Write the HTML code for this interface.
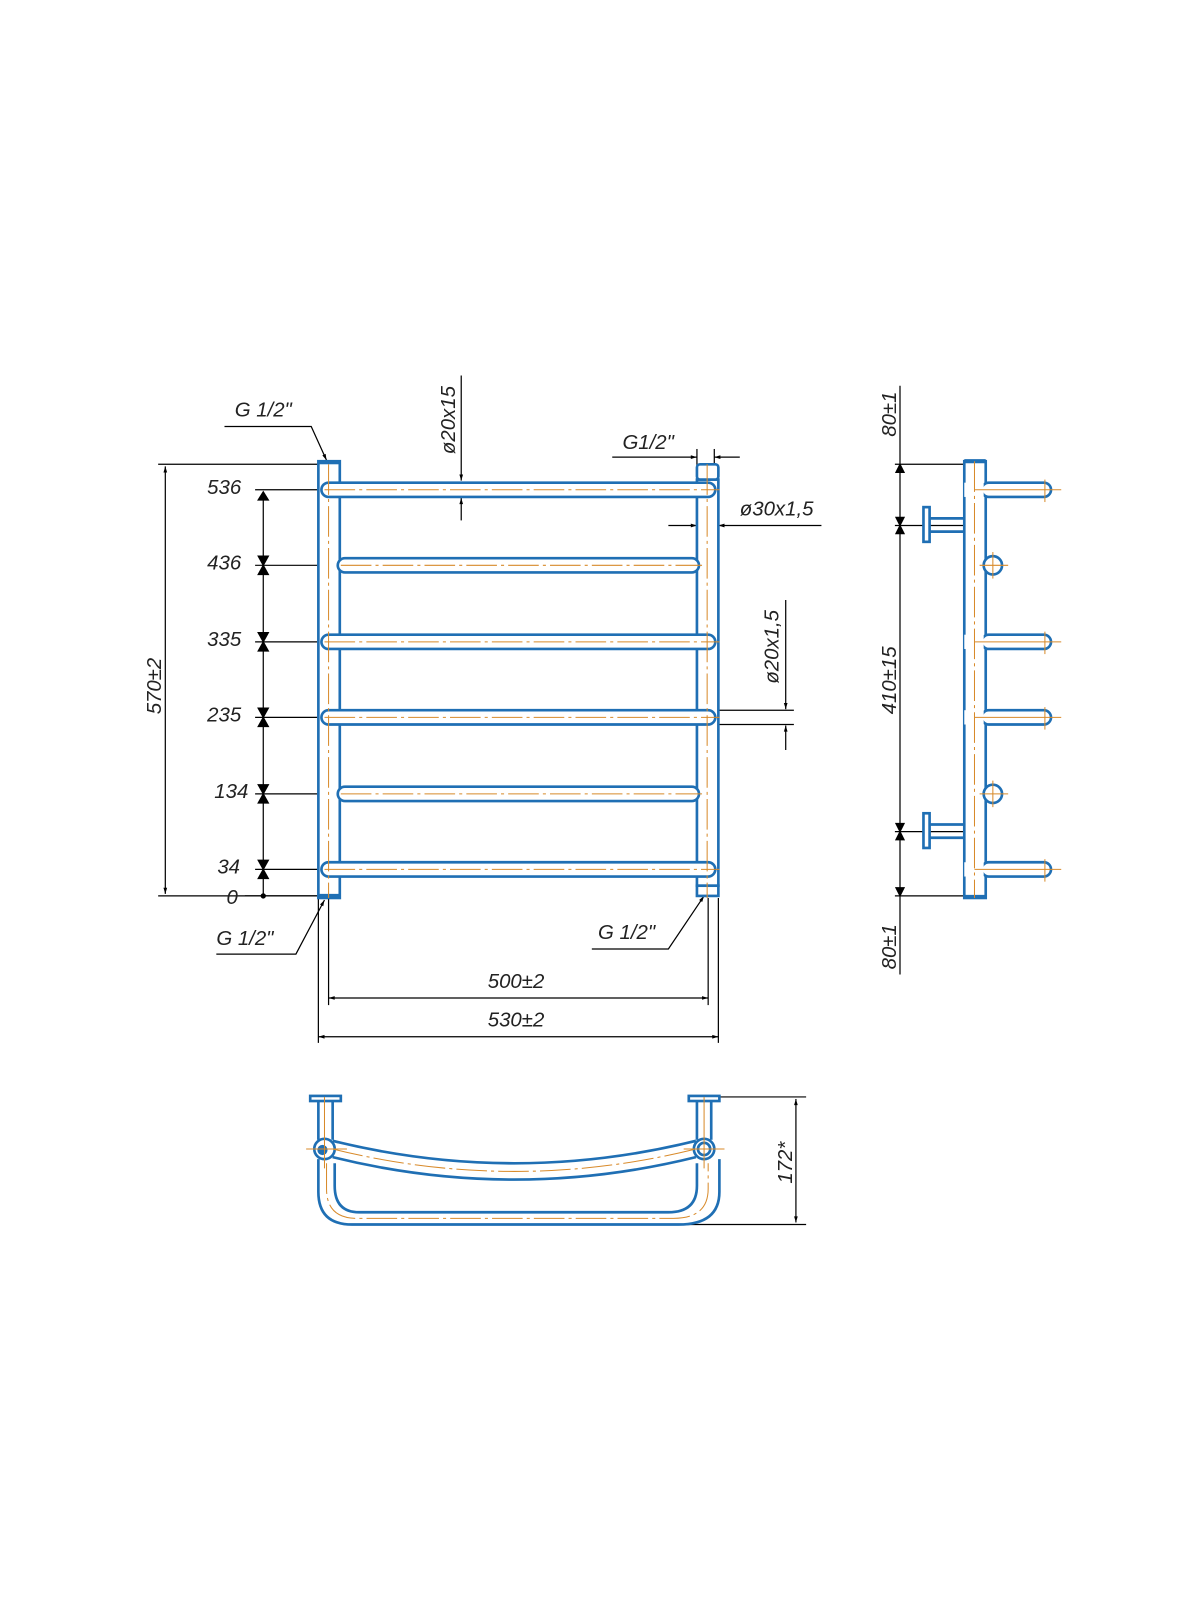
<!DOCTYPE html>
<html><head><meta charset="utf-8"><style>
html,body{margin:0;padding:0;background:#fff;}
svg{display:block;}
text{font-family:"Liberation Sans",sans-serif;font-style:italic;font-size:20px;fill:#222;}
</style></head><body>
<svg width="1200" height="1600" viewBox="0 0 1176 1568" xmlns="http://www.w3.org/2000/svg">
<defs>
<marker id="a" viewBox="0 0 10 10" refX="10" refY="5" markerWidth="10" markerHeight="6" orient="auto-start-reverse" markerUnits="userSpaceOnUse"><path d="M0,2 L10,5 L0,8 z" fill="#000"/></marker>
</defs>
<g stroke="#000" stroke-width="1.2" fill="none">
<!-- 570 dim -->
<line x1="155" y1="455" x2="312" y2="455"/><line x1="155" y1="878" x2="312" y2="878"/>
<line x1="162" y1="457" x2="162" y2="876" marker-start="url(#a)" marker-end="url(#a)"/>
<!-- chain -->
<line x1="258" y1="482" x2="258" y2="876" />
<path d="M253,490 L258,482 L263,490z M253,545 L258,554 L263,545z M253,563 L258,554 L263,563z M253,620 L258,629 L263,620z M253,638 L258,629 L263,638z M253,694 L258,703 L263,694z M253,712 L258,703 L263,712z M253,769 L258,778 L263,769z M253,787 L258,778 L263,787z M253,843 L258,852 L263,843z M253,861 L258,852 L263,861z" fill="#000"/>
<circle cx="258" cy="878" r="2" fill="#000"/>
<line x1="250" y1="480" x2="340" y2="480"/><line x1="250" y1="554" x2="340" y2="554"/>
<line x1="250" y1="629" x2="340" y2="629"/><line x1="250" y1="703" x2="340" y2="703"/>
<line x1="250" y1="778" x2="340" y2="778"/><line x1="250" y1="852" x2="340" y2="852"/>
<line x1="240" y1="878" x2="312" y2="878"/>
<!-- Ø20x15 top -->
<line x1="452" y1="368" x2="452" y2="471" marker-end="url(#a)"/>
<line x1="452" y1="510" x2="452" y2="488" marker-end="url(#a)"/>
<line x1="440" y1="473" x2="485" y2="473"/><line x1="365" y1="487" x2="470" y2="487"/>
<!-- G1/2 top left -->
<polyline points="220,418 305,418 320,451" marker-end="url(#a)"/>
<!-- G1/2 top right -->
<line x1="600" y1="448" x2="683" y2="448" marker-end="url(#a)"/>
<line x1="725" y1="448" x2="700" y2="448" marker-end="url(#a)"/>
<line x1="683" y1="440" x2="683" y2="460"/><line x1="700" y1="440" x2="700" y2="460"/>
<!-- Ø30 -->
<line x1="655" y1="515" x2="683" y2="515" marker-end="url(#a)"/>
<line x1="805" y1="515" x2="704" y2="515" marker-end="url(#a)"/>
<line x1="683" y1="488" x2="683" y2="520"/><line x1="704" y1="488" x2="704" y2="520"/>
<!-- Ø20x1.5 right -->
<line x1="770" y1="588" x2="770" y2="695" marker-end="url(#a)"/>
<line x1="770" y1="735" x2="770" y2="711" marker-end="url(#a)"/>
<line x1="705" y1="696" x2="778" y2="696"/><line x1="705" y1="710" x2="778" y2="710"/>
<!-- G bottom -->
<polyline points="212,935 290,935 318,882" marker-end="url(#a)"/>
<polyline points="580,930 655,930 690,878" marker-end="url(#a)"/>
<!-- 500 / 530 -->
<line x1="322" y1="880" x2="322" y2="985"/><line x1="694" y1="880" x2="694" y2="985"/>
<line x1="312" y1="880" x2="312" y2="1022"/><line x1="704" y1="880" x2="704" y2="1022"/>
<line x1="322" y1="978" x2="694" y2="978" marker-start="url(#a)" marker-end="url(#a)"/>
<line x1="312" y1="1016" x2="704" y2="1016" marker-start="url(#a)" marker-end="url(#a)"/>
<!-- side dims -->
<line x1="882" y1="378" x2="882" y2="955"/>
<line x1="877" y1="455" x2="945" y2="455"/><line x1="877" y1="515" x2="945" y2="515"/>
<line x1="877" y1="815" x2="945" y2="815"/><line x1="877" y1="878" x2="945" y2="878"/>
<path d="M878,463 L882,455 L886,463z M878,507 L882,515 L886,507z M878,523 L882,515 L886,523z M878,807 L882,815 L886,807z M878,823 L882,815 L886,823z M878,870 L882,878 L886,870z" fill="#000"/>
<!-- 172 -->
<line x1="690" y1="1075" x2="790" y2="1075"/><line x1="660" y1="1200" x2="790" y2="1200"/>
<line x1="780" y1="1077" x2="780" y2="1198" marker-start="url(#a)" marker-end="url(#a)"/>
</g>
<!-- texts -->
<text x="230" y="408">G 1/2"</text>
<text x="610" y="440">G1/2"</text>
<text x="725" y="505">ø30x1,5</text>
<text x="212" y="926">G 1/2"</text>
<text x="586" y="920">G 1/2"</text>
<text x="478" y="968">500±2</text>
<text x="478" y="1006">530±2</text>
<text x="203" y="484">536</text><text x="203" y="558">436</text><text x="203" y="633">335</text>
<text x="203" y="707">235</text><text x="210" y="782">134</text><text x="213" y="856">34</text>
<text x="222" y="886">0</text>
<text transform="translate(158,700) rotate(-90)">570±2</text>
<text transform="translate(446,445) rotate(-90)">ø20x15</text>
<text transform="translate(763,670) rotate(-90)">ø20x1,5</text>
<text transform="translate(878,428) rotate(-90)">80±1</text>
<text transform="translate(878,700) rotate(-90)">410±15</text>
<text transform="translate(878,950) rotate(-90)">80±1</text>
<text transform="translate(776,1160) rotate(-90)">172*</text>

<!-- front view -->
<g stroke="#1f6fb4" stroke-width="2.6" fill="#fff">
<rect x="312" y="452" width="21" height="428"/>
<rect x="683" y="470" width="21" height="398"/>
<rect x="683" y="455" width="21" height="15" rx="3"/>
<rect x="683" y="868" width="21" height="10"/>
<rect x="315" y="473" width="386" height="14" rx="7"/>
<rect x="331" y="547" width="354" height="14" rx="7"/>
<rect x="315" y="622" width="386" height="14" rx="7"/>
<rect x="315" y="696" width="386" height="14" rx="7"/>
<rect x="331" y="771" width="354" height="14" rx="7"/>
<rect x="315" y="845" width="386" height="14" rx="7"/>
</g>
<rect x="312" y="451" width="21" height="4" fill="#1f6fb4"/>
<rect x="312" y="876" width="21" height="4" fill="#1f6fb4"/>
<g stroke="#d88a2a" stroke-width="1" stroke-dasharray="30,4,3,4" fill="none">
<line x1="322" y1="455" x2="322" y2="880"/><line x1="693" y1="455" x2="693" y2="880"/>
<line x1="318" y1="480" x2="705" y2="480"/><line x1="334" y1="554" x2="688" y2="554"/>
<line x1="318" y1="629" x2="705" y2="629"/><line x1="318" y1="703" x2="705" y2="703"/>
<line x1="334" y1="778" x2="688" y2="778"/><line x1="318" y1="852" x2="705" y2="852"/>
<line x1="955" y1="452" x2="955" y2="880"/>
</g>

<!-- side view -->
<g stroke="#1f6fb4" stroke-width="2.6" fill="#fff">
<rect x="945" y="452" width="21" height="428"/>
<rect x="962" y="473" width="68" height="14" rx="7"/>
<rect x="962" y="622" width="68" height="14" rx="7"/>
<rect x="962" y="696" width="68" height="14" rx="7"/>
<rect x="962" y="845" width="68" height="14" rx="7"/>
<rect x="945" y="473" width="19" height="14" stroke="none"/>
<rect x="945" y="622" width="19" height="14" stroke="none"/>
<rect x="945" y="696" width="19" height="14" stroke="none"/>
<rect x="945" y="845" width="19" height="14" stroke="none"/>
<circle cx="973" cy="554" r="9"/><circle cx="973" cy="778" r="9"/>
<rect x="905" y="497" width="6" height="34"/><line x1="911" y1="508" x2="945" y2="508"/><line x1="911" y1="521" x2="945" y2="521"/>
<rect x="905" y="797" width="6" height="34"/><line x1="911" y1="808" x2="945" y2="808"/><line x1="911" y1="821" x2="945" y2="821"/>
</g>
<line x1="945" y1="452" x2="966" y2="452" stroke="#1f6fb4" stroke-width="4"/>
<line x1="945" y1="879" x2="966" y2="879" stroke="#1f6fb4" stroke-width="4"/>
<g stroke="#d88a2a" stroke-width="1" fill="none">
<line x1="955" y1="452" x2="955" y2="880" stroke-dasharray="30,4,3,4"/>
<line x1="955" y1="480" x2="1040" y2="480"/><line x1="1024" y1="470" x2="1024" y2="492"/>
<line x1="955" y1="629" x2="1040" y2="629"/><line x1="1024" y1="619" x2="1024" y2="641"/>
<line x1="955" y1="703" x2="1040" y2="703"/><line x1="1024" y1="693" x2="1024" y2="715"/>
<line x1="955" y1="852" x2="1040" y2="852"/><line x1="1024" y1="842" x2="1024" y2="864"/>
<line x1="960" y1="554" x2="988" y2="554"/><line x1="973" y1="541" x2="973" y2="567"/>
<line x1="960" y1="778" x2="988" y2="778"/><line x1="973" y1="765" x2="973" y2="791"/>
</g>

<!-- top view -->
<g stroke="#1f6fb4" stroke-width="2.6" fill="none">
<rect x="304" y="1074" width="30" height="5" fill="#fff"/>
<rect x="675" y="1074" width="30" height="5" fill="#fff"/>
<line x1="312" y1="1079" x2="312" y2="1117"/><line x1="326" y1="1079" x2="326" y2="1117"/>
<line x1="683" y1="1079" x2="683" y2="1117"/><line x1="697" y1="1079" x2="697" y2="1117"/>
<path d="M326,1118 Q504,1162 682,1118"/>
<path d="M326,1134 Q504,1178 682,1134"/>
<path d="M312,1136 L312,1168 Q312,1200 345,1200 L665,1200 Q705,1200 705,1168 L705,1136"/>
<path d="M328,1140 L328,1162 Q328,1188 352,1188 L655,1188 Q683,1188 683,1162 L683,1140"/>
<circle cx="318" cy="1126" r="10" fill="#fff"/>
<circle cx="690" cy="1126" r="10" fill="#fff"/>
<circle cx="690" cy="1126" r="6"/>
</g>
<circle cx="316" cy="1127" r="5" fill="#1f6fb4"/>
<g stroke="#d88a2a" stroke-width="1" fill="none">
<line x1="318" y1="1075" x2="318" y2="1145"/><line x1="690" y1="1075" x2="690" y2="1145"/>
<line x1="300" y1="1126" x2="340" y2="1126"/><line x1="670" y1="1126" x2="710" y2="1126"/>
<path d="M326,1126 Q504,1170 682,1126" stroke-dasharray="30,4,3,4"/>
<path d="M320,1140 L320,1165 Q320,1194 350,1194 L660,1194 Q694,1194 694,1165 L694,1140" stroke-dasharray="30,4,3,4"/>
</g>
</svg>
</body></html>
